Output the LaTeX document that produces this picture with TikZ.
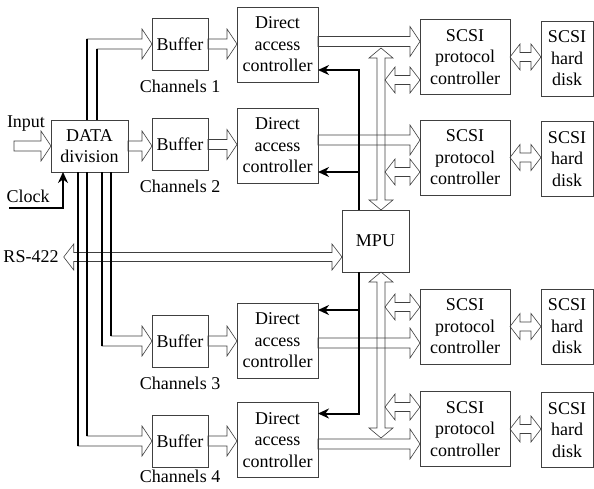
\documentclass[tikz,border=0pt]{standalone}
\usepackage{fontspec}
\setmainfont{Liberation Serif}
\usetikzlibrary{calc,positioning,arrows.meta}

\tikzset{
  blk/.style={draw=black!75, line width=0.6pt, outer sep=0pt, inner sep=0pt, align=center},
  bufblk/.style={blk, minimum width=56pt, minimum height=52pt},
  dacblk/.style={blk, minimum width=81pt, minimum height=75pt},
  scsiblk/.style={blk, minimum width=90pt, minimum height=75pt},
  diskblk/.style={blk, minimum width=52pt, minimum height=75pt},
  lbl/.style={inner sep=0pt},
  hl/.style={draw=black!75, line width=0.6pt},
  bus/.style={line width=2.4pt},
  ctl/.style={line width=2pt, -{Stealth[length=11pt,width=10pt]}},
  % hollow arrow pointing right
  hollow/.style={hl, to path={($(\tikztostart)+(0,-5)$) -- ($(\tikztotarget)+(-10,-5)$)
    -- ($(\tikztotarget)+(-10,-15)$) -- (\tikztotarget) -- ($(\tikztotarget)+(-10,15)$)
    -- ($(\tikztotarget)+(-10,5)$) -- ($(\tikztostart)+(0,5)$) -- cycle}},
  % hollow arrow, heads left and right
  hollowlr/.style={hl, to path={(\tikztostart) -- ($(\tikztostart)+(10,-13)$) -- ($(\tikztostart)+(10,-4.5)$)
    -- ($(\tikztotarget)+(-10,-4.5)$) -- ($(\tikztotarget)+(-10,-13)$) -- (\tikztotarget)
    -- ($(\tikztotarget)+(-10,13)$) -- ($(\tikztotarget)+(-10,4.5)$) -- ($(\tikztostart)+(10,4.5)$)
    -- ($(\tikztostart)+(10,13)$) -- cycle}},
  % hollow arrow, heads up and down
  hollowud/.style={hl, to path={(\tikztostart) -- ($(\tikztostart)+(12,10)$) -- ($(\tikztostart)+(4,10)$)
    -- ($(\tikztotarget)+(4,-10)$) -- ($(\tikztotarget)+(12,-10)$) -- (\tikztotarget)
    -- ($(\tikztotarget)+(-12,-10)$) -- ($(\tikztotarget)+(-4,-10)$) -- ($(\tikztostart)+(-4,10)$)
    -- ($(\tikztostart)+(-12,10)$) -- cycle}},
}

\begin{document}
\begin{tikzpicture}[x=1pt, y=-1pt, font=\fontsize{18}{21.5}\selectfont]
    \useasboundingbox (0,0) rectangle (594,488);
    % blocks
    \node[blk, minimum width=77pt, minimum height=52pt] (data) at (89.5,146) {DATA\\division};
    \node[bufblk] (buf1) at (180,44) {Buffer};
    \node[bufblk] (buf2) at (180,144.5) {Buffer};
    \node[bufblk] (buf3) at (180,341) {Buffer};
    \node[bufblk] (buf4) at (180,441) {Buffer};
    \node[lbl, below=9.5pt of buf1] (ch1) {Channels 1};
    \node[lbl, below=9.5pt of buf2] (ch2) {Channels 2};
    \node[lbl, below=9.5pt of buf3] (ch3) {Channels 3};
    \node[lbl, below=3pt of buf4] (ch4) {Channels 4};
    \node[dacblk] (dac1) at (277.5,44.5) {Direct\\access\\controller};
    \node[dacblk] (dac2) at (277.5,145.5) {Direct\\access\\controller};
    \node[dacblk] (dac3) at (277.5,340.5) {Direct\\access\\controller};
    \node[dacblk] (dac4) at (277.5,440) {Direct\\access\\controller};
    \node[blk, minimum width=67pt, minimum height=62pt] (mpu) at (375.5,241) {MPU};
    \node[scsiblk] (scsi1) at (465,57) {SCSI\\protocol\\controller};
    \node[scsiblk] (scsi2) at (465,157.5) {SCSI\\protocol\\controller};
    \node[scsiblk] (scsi3) at (465,326.5) {SCSI\\protocol\\controller};
    \node[scsiblk] (scsi4) at (465,429) {SCSI\\protocol\\controller};
    \node[diskblk] (disk1) at (567,58.5) {SCSI\\hard\\disk};
    \node[diskblk] (disk2) at (567,159) {SCSI\\hard\\disk};
    \node[diskblk] (disk3) at (567,326.5) {SCSI\\hard\\disk};
    \node[diskblk] (disk4) at (567,430) {SCSI\\hard\\disk};
    % outside signals
    \node[lbl] (inlbl) at (26,124) {Input};
    \node[lbl] (clklbl) at (28,196) {Clock};
    \node[lbl] (rs) at (31,257) {RS-422};
    \coordinate (inp) at (14,146);
    \coordinate (clk) at (9,208);
    \coordinate (bustop) at (381,48);
    \coordinate (busbot) at (381,438);
    % data paths
    \draw[hollow] (inp) to (data.west |- inp);
    \draw[hollow] (data.east) to (buf2.west |- data.east);
    \foreach \i/\dy in {1/-3,2/-5.5,3/2.5,4/4} {
      \draw[hollow] (buf\i.east) to (dac\i.west |- buf\i.east);
      \draw[hollow] ($(dac\i.east)+(0,\dy)$) to ($(scsi\i.west |- dac\i.east)+(0,\dy)$);
      \draw[hollowlr] (scsi\i.east) to (disk\i.west |- scsi\i.east);
    }
    \draw[hollowlr] ([xshift=5pt]rs.east) to (mpu.west |- rs.east);
    % bus from MPU
    \draw[hollowud] (bustop) to (mpu.north -| bustop);
    \draw[hollowud] (mpu.south -| bustop) to (busbot);
    \draw[hollowlr] ($(bustop |- scsi1.west)+(4,23)$) to ($(scsi1.west)+(0,23)$);
    \draw[hollowlr] ($(bustop |- scsi2.west)+(4,14.5)$) to ($(scsi2.west)+(0,14.5)$);
    \draw[hollowlr] ($(bustop |- scsi3.west)+(4,-19.5)$) to ($(scsi3.west)+(0,-19.5)$);
    \draw[hollowlr] ($(bustop |- scsi4.west)+(4,-22)$) to ($(scsi4.west)+(0,-22)$);
    % channel split from DATA division
    \coordinate (o1) at ([xshift=-2.5pt]data.north);
    \coordinate (i1) at ([xshift=7.5pt]data.north);
    \coordinate (o3) at ([xshift=12.5pt]data.south);
    \coordinate (i3) at ([xshift=21.5pt]data.south);
    \coordinate (o4) at ([xshift=-11.5pt]data.south);
    \coordinate (i4) at ([xshift=-2.5pt]data.south);
    \draw[hl] (o1) |- ($(buf1.west)+(-10,-5)$) -- ($(buf1.west)+(-10,-15)$) -- (buf1.west)
      -- ($(buf1.west)+(-10,15)$) -- ($(buf1.west)+(-10,5)$) -| (i1);
    \draw[hl] (o3) |- ($(buf3.west)+(-10,5)$) -- ($(buf3.west)+(-10,15)$) -- (buf3.west)
      -- ($(buf3.west)+(-10,-15)$) -- ($(buf3.west)+(-10,-5)$) -| (i3);
    \draw[hl] (o4) |- ($(buf4.west)+(-10,5)$) -- ($(buf4.west)+(-10,15)$) -- (buf4.west)
      -- ($(buf4.west)+(-10,-15)$) -- ($(buf4.west)+(-10,-5)$) -| (i4);
    \draw[bus] (o1) -- ($(o1 |- buf1.west)+(0,-5)$);
    \draw[bus] (i1) -- ($(i1 |- buf1.west)+(0,5)$);
    \draw[bus] (o3) -- ($(o3 |- buf3.west)+(0,5)$);
    \draw[bus] (i3) -- ($(i3 |- buf3.west)+(0,-5)$);
    \draw[bus] (o4) -- ($(o4 |- buf4.west)+(0,5)$);
    \draw[bus] (i4) -- ($(i4 |- buf4.west)+(0,-5)$);
    % control lines
    \draw[ctl] (clk) -| ([xshift=-26.5pt]data.south);
    \draw[ctl] ([xshift=-16.5pt]mpu.north) |- ([yshift=12pt]dac1.south east);
    \draw[ctl] ([xshift=-16.5pt]mpu.north) |- ([yshift=11pt]dac2.south east);
    \draw[ctl] ([xshift=-16.5pt]mpu.south) |- ([yshift=-7pt]dac3.north east);
    \draw[ctl] ([xshift=-16.5pt]mpu.south) |- ([yshift=-11pt]dac4.north east);
\end{tikzpicture}
\end{document}
